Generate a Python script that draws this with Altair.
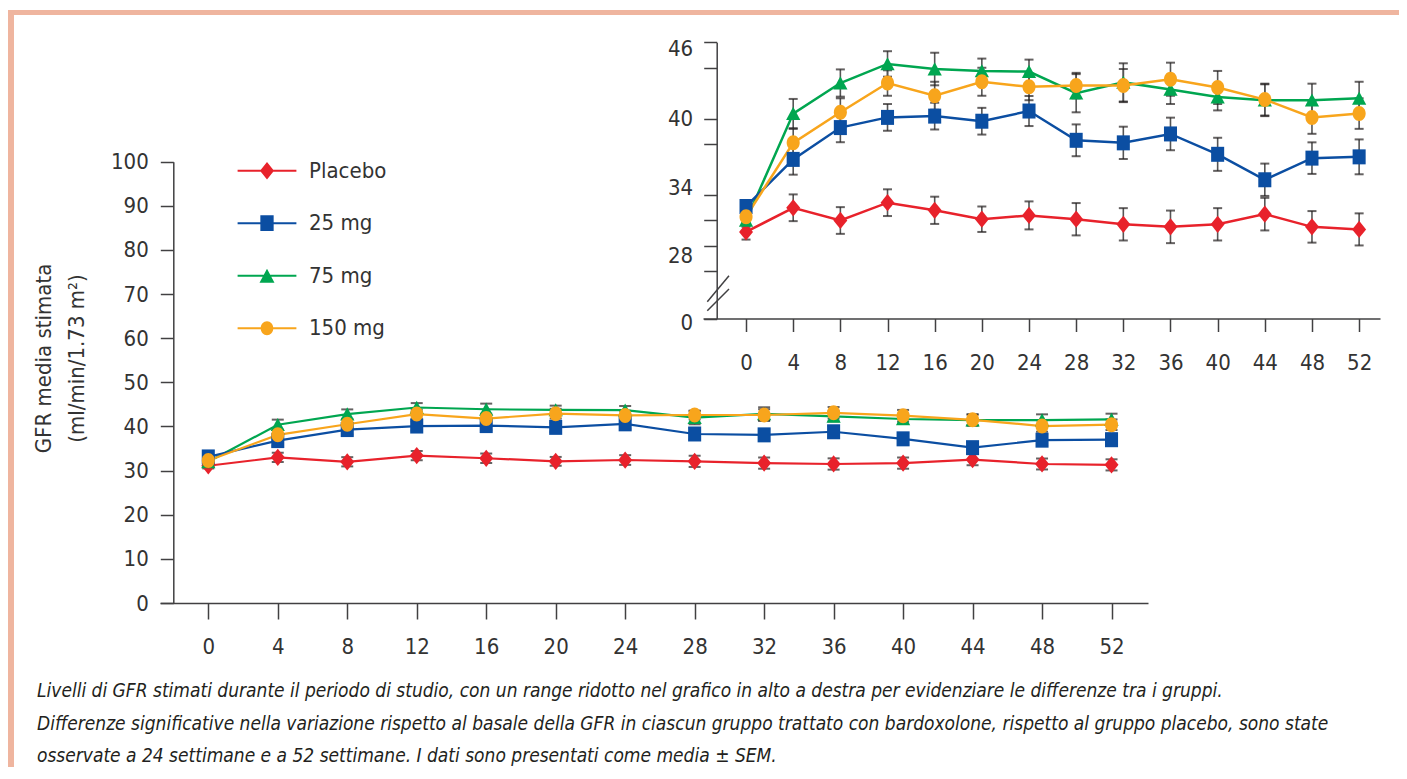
import altair as alt
import pandas as pd

FONT = "'Liberation Sans Narrow', 'Arial Narrow', 'DejaVu Sans Condensed', sans-serif"
TXT = "#333333"
AX = "#414042"

weeks = [0, 4, 8, 12, 16, 20, 24, 28, 32, 36, 40, 44, 48, 52]
series_order = ["Placebo", "25 mg", "75 mg", "150 mg"]
colors = ["#E8222B", "#0B4EA2", "#00A650", "#F8A51C"]

placebo = [31.1, 33.0, 32.0, 33.4, 32.8, 32.1, 32.4, 32.1, 31.7, 31.5, 31.7, 32.5, 31.5, 31.3]
placebo_sem = [0.6, 1.05, 1.05, 1.05, 1.07, 1.0, 1.1, 1.27, 1.27, 1.28, 1.27, 1.28, 1.24, 1.26]
mg25 = [33.1, 36.8, 39.3, 40.1, 40.2, 39.8, 40.6, 38.3, 38.1, 38.8, 37.2, 35.2, 36.9, 37.0]
mg25_sem = [0.5, 1.2, 1.15, 1.05, 1.05, 1.05, 1.18, 1.25, 1.27, 1.28, 1.3, 1.27, 1.24, 1.37]
mg75 = [32.0, 40.4, 42.8, 44.3, 43.9, 43.75, 43.7, 42.0, 42.85, 42.3, 41.7, 41.45, 41.45, 41.6]
mg75_sem = [0.5, 1.15, 1.07, 1.0, 1.28, 0.97, 0.94, 1.5, 1.5, 1.15, 1.05, 1.25, 1.3, 1.3]
mg150 = [32.3, 38.1, 40.5, 42.8, 41.8, 42.9, 42.5, 42.6, 42.6, 43.1, 42.45, 41.5, 40.1, 40.4]
mg150_sem = [0.5, 1.1, 1.1, 1.0, 1.1, 1.1, 1.05, 1.0, 1.3, 1.3, 1.3, 1.25, 1.29, 1.2]

caption = [
    "Livelli di GFR stimati durante il periodo di studio, con un range ridotto nel grafico in alto a destra per evidenziare le differenze tra i gruppi.",
    "Differenze significative nella variazione rispetto al basale della GFR in ciascun gruppo trattato con bardoxolone, rispetto al gruppo placebo, sono state",
    "osservate a 24 settimane e a 52 settimane. I dati sono presentati come media ± SEM.",
]

draw = [("Placebo", placebo, placebo_sem), ("75 mg", mg75, mg75_sem),
        ("25 mg", mg25, mg25_sem), ("150 mg", mg150, mg150_sem)]
rows = []
for name, vals, sems in draw:
    for w, v, s in zip(weeks, vals, sems):
        rows.append({"week": w, "value": v, "lo": v - s, "hi": v + s, "series": name})
df = pd.DataFrame(rows)
one = pd.DataFrame({"k": [0]})

# marker paths
diamond = "M0,-1.15L0.93,0L0,1.15L-0.93,0Z"
square = "M-0.87,-1L0.87,-1L0.87,1L-0.87,1Z"
triangle = "M0,-0.9L0.95,0.85L-0.95,0.85Z"
ellipse = "M-0.87,0A0.87,1 0 1 1 0.87,0A0.87,1 0 1 1 -0.87,0Z"
shapes = [diamond, square, triangle, ellipse]
bar = "M-4.2,-0.14L4.2,-0.14L4.2,0.14L-4.2,0.14Z"
leg_shapes = [
    bar + "M0,-1.26L1,0L0,1.26L-1,0Z",
    bar + "M-0.95,-1.12L0.95,-1.12L0.95,1.12L-0.95,1.12Z",
    bar + "M0,-1.0L1.07,1.0L-1.07,1.0Z",
    bar + "M-0.9,0A0.9,1 0 1 1 0.9,0A0.9,1 0 1 1 -0.9,0Z",
]

color_nolegend = alt.Color("series:N", scale=alt.Scale(domain=series_order, range=colors), legend=None)
shape_nolegend = alt.Shape("series:N", scale=alt.Scale(domain=series_order, range=shapes), legend=None)

axis_common = dict(grid=False, domainColor=AX, tickColor=AX, domainWidth=1.5, tickWidth=1.5,
                   labelColor=TXT, labelFont=FONT, labelFontSize=22, title=None)


def panel(xscale, yscale, xaxis, yaxis, capw, lw):
    x = alt.X("week:Q", scale=xscale, axis=xaxis)
    xs = alt.X("week:Q", scale=xscale)
    err = alt.Chart().mark_rule(color="#555555", strokeWidth=1.6).encode(
        x=xs, y=alt.Y("lo:Q", scale=yscale, axis=yaxis), y2="hi:Q")
    cap_lo = alt.Chart().mark_tick(orient="horizontal", color="#231F20", thickness=2, size=capw).encode(
        x=xs, y=alt.Y("lo:Q", scale=yscale))
    cap_hi = alt.Chart().mark_tick(orient="horizontal", color="#231F20", thickness=2, size=capw).encode(
        x=xs, y=alt.Y("hi:Q", scale=yscale))
    line = alt.Chart().mark_line(strokeWidth=lw).encode(
        x=x, y=alt.Y("value:Q", scale=yscale), color=color_nolegend, detail="series:N")
    pts = alt.Chart().mark_point(filled=True, opacity=1, size=225).encode(
        x=xs, y=alt.Y("value:Q", scale=yscale), color=color_nolegend, shape=shape_nolegend)
    return [err, cap_lo, cap_hi, line, pts]


# main chart
main_x_scale = alt.Scale(domain=[-2.78, 54.1], range=[0, 988], nice=False, zero=False)
main_y_scale = alt.Scale(domain=[0, 100], range=[561, 119.7], nice=False, zero=False)
main_x_axis = alt.Axis(orient="bottom", values=weeks, tickSize=16, labelPadding=17, **axis_common)
main_y_axis = alt.Axis(orient="left", offset=-13.3, values=list(range(0, 101, 10)), tickSize=13,
                       labelPadding=12, grid=False, domainColor=AX, tickColor=AX, domainWidth=1.5,
                       tickWidth=1.5, labelColor=TXT, labelFont=FONT, labelFontSize=22,
                       title=["GFR media stimata", "(ml/min/1.73 m²)"], titleFont=FONT,
                       titleFontSize=22, titleFontWeight="normal", titleColor=TXT,
                       titleLineHeight=33, titlePadding=22, titleY=316)
main_layers = panel(main_x_scale, main_y_scale, main_x_axis, main_y_axis, 12, 2.2)

# decorations (page border, axis break, caption)
border_col = "#EFB59F"
deco = [
    alt.Chart(one).mark_rule(color=border_col, strokeWidth=6).encode(
        x=alt.value(-149), y=alt.value(-32), y2=alt.value(725)),
    alt.Chart(one).mark_rule(color=border_col, strokeWidth=5).encode(
        x=alt.value(-152), x2=alt.value(1239), y=alt.value(-29.5)),
    alt.Chart(one).mark_rule(color=AX, strokeWidth=1.5).encode(
        x=alt.value(547.3), x2=alt.value(569), y=alt.value(259.7), y2=alt.value(233.7)),
    alt.Chart(one).mark_rule(color=AX, strokeWidth=1.5).encode(
        x=alt.value(547.3), x2=alt.value(569), y=alt.value(268.7), y2=alt.value(247)),
    alt.Chart(one).mark_text(text=caption, align="left", baseline="top", font=FONT, fontSize=19,
                             fontStyle="italic", lineHeight=32.5, color="#231F20").encode(
        x=alt.value(-123), y=alt.value(640)),
]

main = alt.layer(*main_layers, *deco)

# inset chart
in_x_scale = alt.Scale(domain=[-3.65, 53.77], range=[543, 1220], nice=False, zero=False)
in_y_scale = alt.Scale(domain=[24.3, 46], range=[276.5, 0.3], nice=False, zero=False)
in_x_axis = alt.Axis(orient="bottom", offset=-284.5, values=weeks, tickSize=13, labelPadding=21,
                     **axis_common)
in_y_axis = alt.Axis(orient="left", offset=-556.7, values=[46, 44, 40, 38, 34, 32, 30, 28, 24.3],
                     tickSize=13, labelPadding=11,
                     labelExpr="datum.value < 25 ? '0' : (indexof([46, 40, 34, 28], datum.value) >= 0 ? datum.label : '')",
                     labelOffset={"condition": [
                         {"test": "datum.value == 46", "value": 6},
                         {"test": "datum.value == 34", "value": -8},
                         {"test": "datum.value == 28", "value": -16},
                         {"test": "datum.value < 25", "value": 4}], "value": 0},
                     **axis_common)
inset = alt.layer(*panel(in_x_scale, in_y_scale, in_x_axis, in_y_axis, 9, 2.5))

# legend (line + marker symbols)
leg = alt.Legend(orient="none", legendX=96, legendY=117.7, title=None, symbolSize=196,
                 labelFont=FONT, labelFontSize=22, labelColor=TXT, labelOffset=31,
                 rowPadding=30.5, symbolStrokeWidth=0)
legend_layer = alt.Chart().mark_point(filled=True, opacity=1).encode(
    color=alt.Color("series:N", scale=alt.Scale(domain=series_order, range=colors), legend=leg),
    shape=alt.Shape("series:N", scale=alt.Scale(domain=series_order, range=leg_shapes), legend=leg),
).transform_filter("datum.week < -100")

chart = alt.layer(main, inset, legend_layer, data=df).resolve_scale(
    x="independent", y="independent", color="independent", shape="independent"
).properties(
    width=1220, height=561,
    autosize=alt.AutoSizeParams(type="none"),
    padding={"left": 152, "top": 34, "right": 19, "bottom": 164},
).configure(font=FONT).configure_view(stroke=None)

chart.save("out.html", embed_options={"renderer": "svg", "actions": False})
